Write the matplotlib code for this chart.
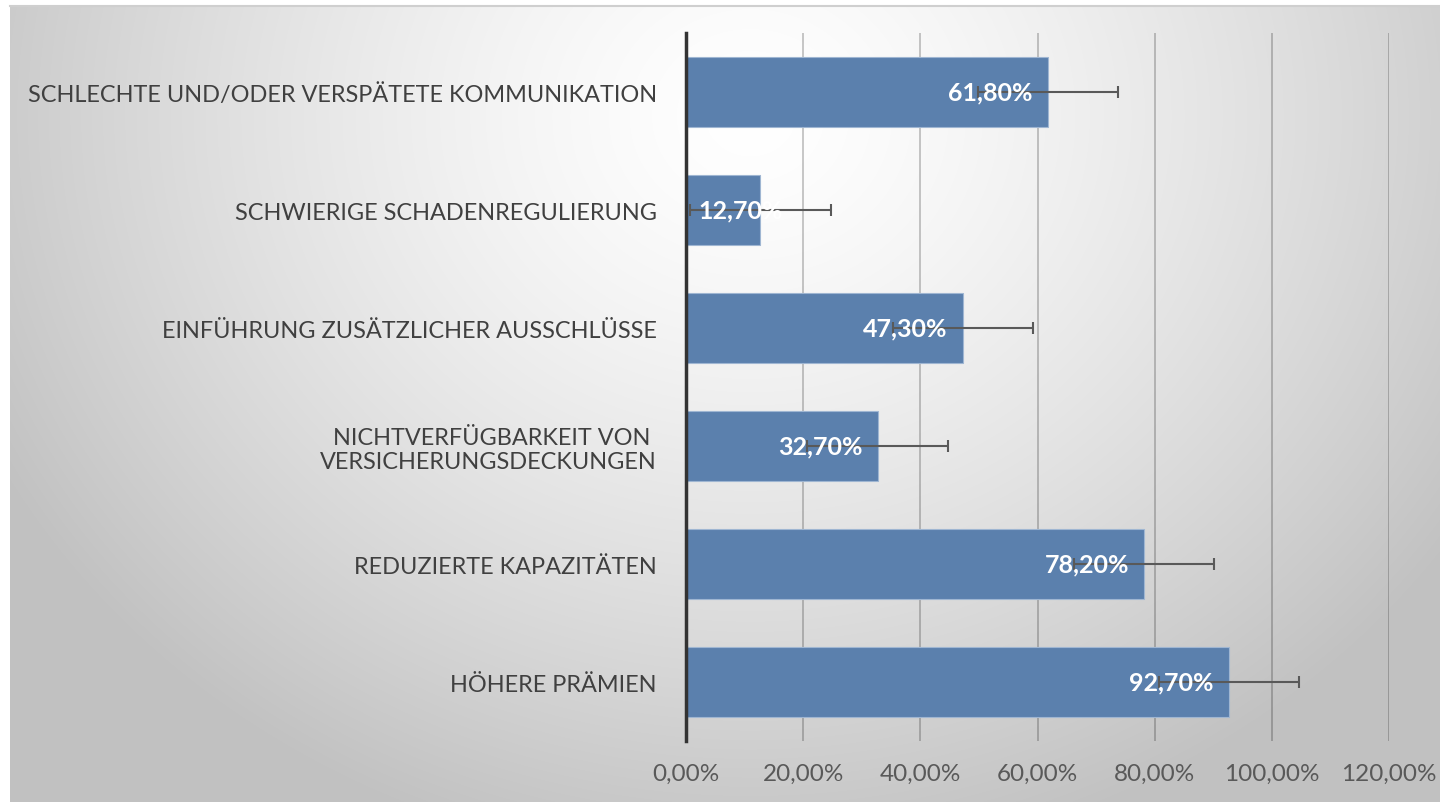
import numpy as np
import matplotlib
matplotlib.use("Agg")
import matplotlib.pyplot as plt

# data (bottom to top, as drawn)
categories = [
    "HÖHERE PRÄMIEN",
    "REDUZIERTE KAPAZITÄTEN",
    "NICHTVERFÜGBARKEIT VON \nVERSICHERUNGSDECKUNGEN",
    "EINFÜHRUNG ZUSÄTZLICHER AUSSCHLÜSSE",
    "SCHWIERIGE SCHADENREGULIERUNG",
    "SCHLECHTE UND/ODER VERSPÄTETE KOMMUNIKATION",
]
values = [92.7, 78.2, 32.7, 47.3, 12.7, 61.8]
errors = [12, 12, 12, 12, 12, 12]
xticks = [0, 20, 40, 60, 80, 100, 120]
xticklabels = ["0,00%", "20,00%", "40,00%", "60,00%", "80,00%", "100,00%", "120,00%"]

plt.rcParams['font.family'] = ['Lato', 'DejaVu Sans']

W, H = 1440, 803
fig = plt.figure(figsize=(W / 100, H / 100), dpi=100)
fig.patch.set_facecolor("white")

# gradient background
bg = fig.add_axes([10 / W, 0, 1 - 10 / W, 1 - 7 / H], zorder=-10)
yy, xx = np.mgrid[0:796, 0:1430]
r = np.sqrt(((xx - 740) / 900.0) ** 2 + ((yy - 110) / 800.0) ** 2)
v = 255 - 62 * np.clip(r / 0.95, 0, 1) ** 1.4
img = np.dstack([v, v, v]) / 255.0
bg.imshow(img, aspect="auto", extent=[0, 1, 0, 1], interpolation="bilinear")
bg.set_xlim(0, 1)
bg.set_ylim(0, 1)
bg.axis("off")
bg.plot([0, 1], [1, 1], color="#cfcfcf", lw=1.5, transform=bg.transAxes, clip_on=False)

ax = fig.add_axes([686 / W, 1 - 742 / H, (1389 - 686) / W, (742 - 34) / H])
ax.set_facecolor("none")

y = np.arange(len(categories))
ax.barh(y, values, height=0.585, color="#5b80ad", edgecolor="#9fb6d2", linewidth=0.8, zorder=2)
ax.errorbar(values, y, xerr=errors, fmt="none", ecolor="#595959", elinewidth=1.5,
            capsize=4.5, capthick=1.5, zorder=3)

for yi, val in zip(y, values):
    txt = f"{val:.2f}%".replace(".", ",")
    if val < 20:
        ax.text(2.2, yi, txt, ha="left", va="center", color="white",
                fontsize=18, fontweight="bold", zorder=4)
    else:
        ax.text(val - 2.6, yi, txt, ha="right", va="center", color="white",
                fontsize=18, fontweight="bold", zorder=4)

ax.set_xlim(0, 120)
ax.set_ylim(-0.5, len(categories) - 0.5)
ax.set_xticks(xticks)
ax.set_xticklabels(xticklabels)
ax.set_yticks(y)
ax.set_yticklabels(categories)
ax.tick_params(axis="x", length=0, pad=16, labelsize=17.5, labelcolor="#595959")
ax.tick_params(axis="y", length=0, pad=21, labelsize=16.9, labelcolor="#404040")

ax.grid(axis="x", color="black", alpha=0.25, linewidth=1.2, zorder=0)
ax.set_axisbelow(True)
for s in ["top", "right", "bottom"]:
    ax.spines[s].set_visible(False)
ax.spines["left"].set_color("#333333")
ax.spines["left"].set_linewidth(2.5)
ax.spines["left"].set_zorder(5)

fig.savefig("out.png", dpi=100)
